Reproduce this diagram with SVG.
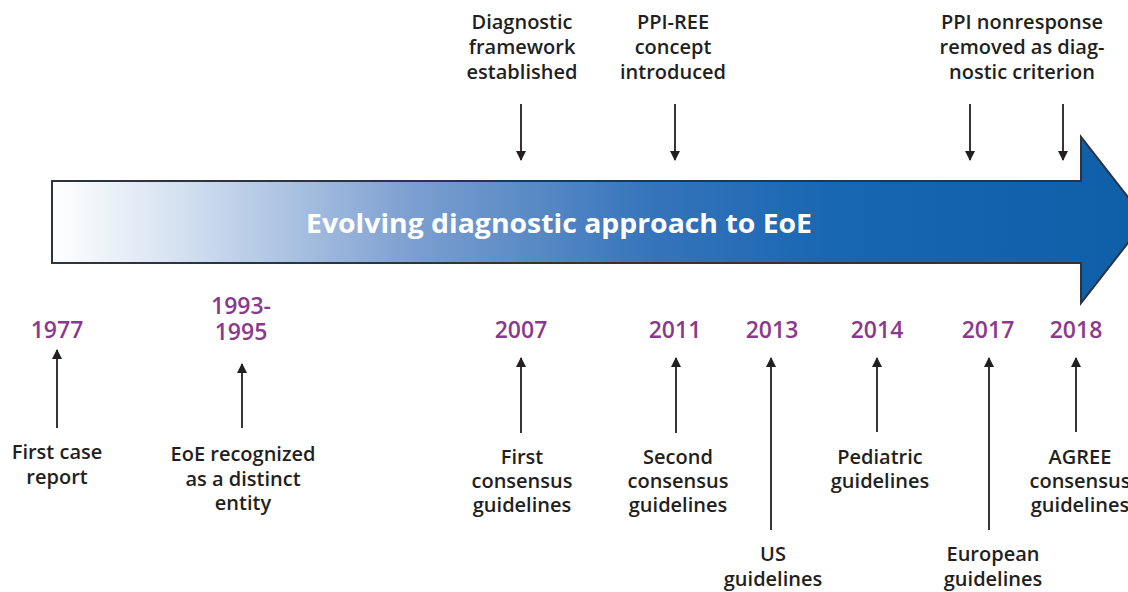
<svg xmlns="http://www.w3.org/2000/svg" width="1128" height="592" viewBox="0 0 1128 592">
<defs>
<linearGradient id="g" gradientUnits="userSpaceOnUse" x1="52" y1="0" x2="1146" y2="0">
<stop offset="0" stop-color="#ffffff"/>
<stop offset="0.12" stop-color="#d3e0f0"/>
<stop offset="0.33" stop-color="#7c9fd0"/>
<stop offset="0.55" stop-color="#3574bb"/>
<stop offset="0.72" stop-color="#1766b1"/>
<stop offset="1" stop-color="#0f5ea8"/>
</linearGradient>
<marker id="ah" viewBox="0 0 10 10" refX="9" refY="5" markerWidth="10" markerHeight="11" markerUnits="userSpaceOnUse" orient="auto">
<path d="M0,0 L10,5 L0,10 Z" fill="#231f20"/>
</marker>
<style>
.t{font-family:"Open Sans","Liberation Sans",sans-serif;font-weight:600;font-size:20px;fill:#231f20;text-anchor:middle}
.y{font-family:"Open Sans","Liberation Sans",sans-serif;font-weight:600;font-size:23px;fill:#8a3a8e;text-anchor:middle}
.c{stroke:#231f20;stroke-width:1.8;fill:none;marker-end:url(#ah)}
</style>
</defs>
<rect width="1128" height="592" fill="#ffffff"/>
<g id="band">
<path d="M52,181 L1081,181 L1081,137 L1146,220 L1081,303 L1081,263 L52,263 Z" fill="url(#g)" stroke="#2b3440" stroke-width="2"/>
<text x="559" y="233" font-family="'Open Sans','Liberation Sans',sans-serif" font-weight="700" font-size="27" fill="#ffffff" text-anchor="middle" textLength="506" lengthAdjust="spacingAndGlyphs">Evolving diagnostic approach to EoE</text>
</g>
<g id="connectors">
<line class="c" x1="521" y1="104" x2="521" y2="160"/>
<line class="c" x1="675" y1="104" x2="675" y2="160"/>
<line class="c" x1="970" y1="104" x2="970" y2="160"/>
<line class="c" x1="1063" y1="104" x2="1063" y2="160"/>
<line class="c" x1="57" y1="428" x2="57" y2="350"/>
<line class="c" x1="242" y1="428" x2="242" y2="364"/>
<line class="c" x1="521" y1="433" x2="521" y2="358"/>
<line class="c" x1="676" y1="433" x2="676" y2="358"/>
<line class="c" x1="771" y1="530" x2="771" y2="358"/>
<line class="c" x1="877" y1="432" x2="877" y2="358"/>
<line class="c" x1="989" y1="530" x2="989" y2="358"/>
<line class="c" x1="1076" y1="432" x2="1076" y2="358"/>
</g>
<g id="top-2007"><text class="t" x="522" y="29">Diagnostic</text><text class="t" x="522" y="54">framework</text><text class="t" x="522" y="79">established</text></g>
<g id="top-2011"><text class="t" x="673" y="29">PPI-REE</text><text class="t" x="673" y="54">concept</text><text class="t" x="673" y="79">introduced</text></g>
<g id="top-2017"><text class="t" x="1022" y="29">PPI nonresponse</text><text class="t" x="1022" y="54">removed as diag-</text><text class="t" x="1022" y="79">nostic criterion</text></g>
<g id="y1977"><text class="y" x="57" y="338">1977</text><text class="t" x="57" y="459">First case</text><text class="t" x="57" y="484">report</text></g>
<g id="y1993"><text class="y" x="241" y="314">1993-</text><text class="y" x="241" y="340">1995</text><text class="t" x="243" y="461">EoE recognized</text><text class="t" x="243" y="486">as a distinct</text><text class="t" x="243" y="510">entity</text></g>
<g id="y2007"><text class="y" x="521" y="338">2007</text><text class="t" x="522" y="464">First</text><text class="t" x="522" y="488">consensus</text><text class="t" x="522" y="512">guidelines</text></g>
<g id="y2011"><text class="y" x="675" y="338">2011</text><text class="t" x="678" y="464">Second</text><text class="t" x="678" y="488">consensus</text><text class="t" x="678" y="512">guidelines</text></g>
<g id="y2013"><text class="y" x="772" y="338">2013</text><text class="t" x="773" y="561">US</text><text class="t" x="773" y="586">guidelines</text></g>
<g id="y2014"><text class="y" x="877" y="338">2014</text><text class="t" x="880" y="464">Pediatric</text><text class="t" x="880" y="488">guidelines</text></g>
<g id="y2017"><text class="y" x="988" y="338">2017</text><text class="t" x="993" y="561">European</text><text class="t" x="993" y="586">guidelines</text></g>
<g id="y2018"><text class="y" x="1076" y="338">2018</text><text class="t" x="1080" y="464">AGREE</text><text class="t" x="1080" y="488">consensus</text><text class="t" x="1080" y="512">guidelines</text></g>
</svg>
